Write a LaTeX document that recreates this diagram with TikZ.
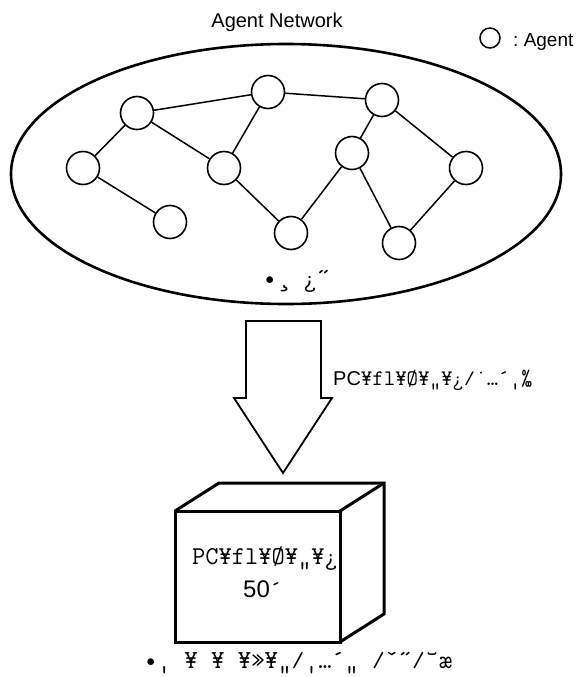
\documentclass[tikz,border=0pt]{standalone}
\usepackage{fontspec}
\usetikzlibrary{shapes.geometric}
\setmainfont{Liberation Sans}
\newfontfamily\monof{Latin Modern Mono}
\begin{document}
\begin{tikzpicture}[x=1pt,y=-1pt,
  agent/.style={circle,draw,line width=1.6pt,minimum size=33pt,inner sep=0pt},
  link/.style={line width=1.5pt},
  txt/.style={anchor=base west,inner sep=0pt},
  boldline/.style={line width=3pt,line join=miter}]
\useasboundingbox (0,0) rectangle (580,677);

% title and legend
\node[anchor=base,inner sep=0pt,font=\fontsize{20}{24}\selectfont] (title) at (277,28) {Agent Network};
\node[circle,draw,line width=1.5pt,minimum size=20pt,inner sep=0pt] (legc) at (490,38) {};
\node[txt,font=\fontsize{19}{23}\selectfont] (legt) at (513,47) {:\ Agent};

% enclosing ellipse
\node[ellipse,draw,line width=2.6pt,minimum width=550pt,minimum height=260pt,inner sep=0pt] (net) at (286,174) {};

% agents
\node[agent] (a1) at (137,113) {};
\node[agent] (a2) at (268,92) {};
\node[agent] (a3) at (382,100) {};
\node[agent] (a4) at (83,168) {};
\node[agent] (a5) at (224,168) {};
\node[agent] (a6) at (352,153) {};
\node[agent] (a7) at (466,168) {};
\node[agent] (a8) at (170,222) {};
\node[agent] (a9) at (291,233) {};
\node[agent] (a10) at (399,243) {};

\draw[link] (a1) -- (a2);
\draw[link] (a2) -- (a3);
\draw[link] (a1) -- (a4);
\draw[link] (a1) -- (a5);
\draw[link] (a2) -- (a5);
\draw[link] (a4) -- (a8);
\draw[link] (a5) -- (a9);
\draw[link] (a9) -- (a6);
\draw[link] (a3) -- (a6);
\draw[link] (a3) -- (a7);
\draw[link] (a6) -- (a10);
\draw[link] (a7) -- (a10);

\node[txt,font=\monof\fontsize{26}{30}\selectfont] (netlbl) at (263,286) {•¸ ¿˝};

% block arrow
\draw[line width=1.8pt,line join=miter] (246,321) -- (321,321) -- (321,398) -- (332,398)
  -- (283,473) -- (234,398) -- (246,398) -- cycle;
\node[txt] (arrlbl) at (333,385) {\fontsize{20}{24}\selectfont PC\monof\fontsize{22.2}{26}\selectfont ¥fl¥Ø¥„¥¿⁄˙…´‚‰};

% cube
\coordinate (f1) at (175,511);
\coordinate (f2) at (340,511);
\coordinate (f3) at (340,642);
\coordinate (f4) at (175,642);
\draw[boldline] (f1) -- (f2) -- (f3) -- (f4) -- cycle;
\draw[boldline] (f1) -- ++(44,-28) -- ++(165,0) coordinate (b2) -- ++(0,131) -- (f3);
\draw[boldline] (f2) -- (b2);
\node[txt,font=\monof\fontsize{25.7}{30}\selectfont] (boxl1) at (192,564) {PC¥fl¥Ø¥„¥¿};
\node[txt] (boxl2) at (243,597) {\fontsize{24}{28}\selectfont 50\monof ´};

% caption
\node[txt,font=\monof\fontsize{26}{30}\selectfont] (cap) at (144,668) {•‚ ¥ ¥ ¥»¥„⁄‚…´„  ⁄ˇ˝⁄˘æ};
\end{tikzpicture}
\end{document}
